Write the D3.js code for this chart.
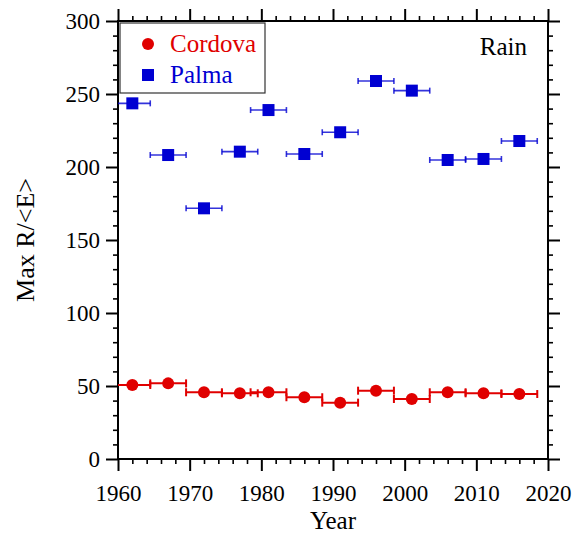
<!DOCTYPE html>
<html>
<head>
<meta charset="utf-8">
<script src="https://cdn.jsdelivr.net/npm/d3@7"></script>
<style>
  body { margin: 0; background: #fff; }
  text { font-family: "Liberation Serif", "Times New Roman", serif; }
</style>
</head>
<body>
<div class="chart"></div>
<script>
// period centres and their extent (x error bars)
var years = [1962, 1967, 1972, 1977, 1981, 1986, 1991, 1996, 2001, 2006, 2011, 2016];
var yearLow = [1959.5, 1964.5, 1969.5, 1974.5, 1978.5, 1983.5, 1988.5, 1993.5, 1998.5, 2003.5, 2008.5, 2013.5];
var yearHigh = [1964.5, 1969.5, 1974.5, 1979.5, 1983.5, 1988.5, 1993.5, 1998.5, 2003.5, 2008.5, 2013.5, 2018.5];
var cordova = [50.7, 51.8, 45.7, 45.0, 45.7, 42.3, 38.6, 46.8, 41.1, 45.7, 45.0, 44.5];
var palma = [243.6, 208.2, 171.7, 210.5, 239.0, 208.9, 223.8, 258.9, 252.3, 204.8, 205.5, 217.8];
var xTicks = [1960, 1970, 1980, 1990, 2000, 2010, 2020];
var yTicks = [0, 50, 100, 150, 200, 250, 300];
var seriesNames = ["Cordova", "Palma"];

(function() {
  var
    W = 583,
    H = 535,
    margin = {top: 21, left: 118, right: 35, bottom: 76},
    width = W - margin.left - margin.right,
    height = H - margin.top - margin.bottom,
    red = "#e00000",
    blue = "#0000d2";

  var svg = d3.select(".chart").append("svg")
    .attr("width", W)
    .attr("height", H);
  var g = svg.append("g").attr("transform", "translate(" + margin.left + "," + margin.top + ")");

  var x = d3.scaleLinear().domain([1960, 2020]).range([0, width]);
  var y = d3.scaleLinear().domain([0, 300]).range([height, 0]);

  var minorX = d3.range(1960, 2021, 2).filter(function(d) { return d % 10 !== 0; });
  var minorY = d3.range(0, 301, 10).filter(function(d) { return d % 50 !== 0; });

  function styleAxis(sel, major) {
    sel.select(".domain").remove();
    sel.selectAll(".tick line").attr("stroke", "#000").attr("stroke-width", major ? 2 : 1.6);
    sel.selectAll(".tick text")
      .attr("fill", "#000")
      .style("font-size", "23px");
  }

  // major + minor ticks on all four sides, pointing outward
  [
    [d3.axisBottom(x), "translate(0," + height + ")", xTicks, minorX, true],
    [d3.axisTop(x), null, xTicks, minorX, false],
    [d3.axisLeft(y), null, yTicks, minorY, true],
    [d3.axisRight(y), "translate(" + width + ",0)", yTicks, minorY, false]
  ].forEach(function(a) {
    var maj = g.append("g").attr("transform", a[1])
      .call(a[0].tickValues(a[2]).tickSize(12).tickSizeOuter(0).tickPadding(a[4] ? 6 : 3)
        .tickFormat(a[4] ? d3.format("d") : ""));
    styleAxis(maj, true);
    var axMinor = a[0].scale() === x ? (a[1] ? d3.axisBottom(x) : d3.axisTop(x)) : (a[1] ? d3.axisRight(y) : d3.axisLeft(y));
    var mn = g.append("g").attr("transform", a[1])
      .call(axMinor.tickValues(a[3]).tickSize(5).tickSizeOuter(0).tickFormat(""));
    styleAxis(mn, false);
  });

  // x tick labels sit a bit lower
  g.selectAll("text").filter(function() { return this.parentNode.parentNode.getAttribute("transform") === "translate(0," + height + ")"; })
    .attr("dy", "1.05em");

  g.append("rect")
    .attr("width", width)
    .attr("height", height)
    .attr("fill", "none")
    .attr("stroke", "#000")
    .attr("stroke-width", 2);

  g.append("clipPath").attr("id", "clip")
    .append("rect").attr("width", width).attr("height", height);

  var plot = g.append("g").attr("clip-path", "url(#clip)");

  function errorBars(values, color, lw, cap, opacity) {
    var eb = plot.append("g").selectAll("g")
        .data(years)
      .enter().append("g")
        .attr("stroke", color)
        .attr("stroke-opacity", opacity)
        .attr("stroke-width", lw);
    eb.append("line")
      .attr("x1", function(d, i) { return x(yearLow[i]); })
      .attr("x2", function(d, i) { return x(yearHigh[i]); })
      .attr("y1", function(d, i) { return y(values[i]); })
      .attr("y2", function(d, i) { return y(values[i]); });
    [yearLow, yearHigh].forEach(function(ends) {
      eb.append("line")
        .attr("x1", function(d, i) { return x(ends[i]); })
        .attr("x2", function(d, i) { return x(ends[i]); })
        .attr("y1", function(d, i) { return y(values[i]) - cap; })
        .attr("y2", function(d, i) { return y(values[i]) + cap; });
    });
  }

  errorBars(cordova, red, 2, 4, 1);
  errorBars(palma, blue, 1.6, 3, 0.8);

  plot.append("g").selectAll("circle")
      .data(cordova)
    .enter().append("circle")
      .attr("cx", function(d, i) { return x(years[i]); })
      .attr("cy", function(d) { return y(d); })
      .attr("r", 6)
      .attr("fill", red);

  plot.append("g").selectAll("rect")
      .data(palma)
    .enter().append("rect")
      .attr("x", function(d, i) { return x(years[i]) - 6; })
      .attr("y", function(d) { return y(d) - 6; })
      .attr("width", 12)
      .attr("height", 12)
      .attr("fill", blue);

  // legend
  var lg = g.append("g").attr("transform", "translate(2,2)");
  lg.append("rect")
    .attr("width", 145)
    .attr("height", 70)
    .attr("fill", "#fff")
    .attr("stroke", "#333")
    .attr("stroke-width", 1.2);
  lg.append("circle").attr("cx", 28).attr("cy", 21).attr("r", 6).attr("fill", red);
  lg.append("rect").attr("x", 22).attr("y", 46).attr("width", 12).attr("height", 12).attr("fill", blue);
  lg.selectAll("text.leg")
      .data(seriesNames)
    .enter().append("text")
      .attr("class", "leg")
      .attr("x", 50)
      .attr("y", function(d, i) { return 29 + i * 31; })
      .attr("fill", function(d, i) { return i ? blue : red; })
      .style("font-size", "25px")
      .text(function(d) { return d; });

  g.append("text")
    .attr("x", width - 21)
    .attr("y", 34)
    .attr("text-anchor", "end")
    .style("font-size", "25px")
    .text("Rain");

  svg.append("text")
    .attr("x", margin.left + width / 2)
    .attr("y", 529)
    .attr("text-anchor", "middle")
    .style("font-size", "25px")
    .text("Year");

  svg.append("text")
    .attr("transform", "translate(34," + (margin.top + height / 2) + ") rotate(-90)")
    .attr("text-anchor", "middle")
    .style("font-size", "26px")
    .text("Max R/<E>");
})();
</script>
</body>
</html>
